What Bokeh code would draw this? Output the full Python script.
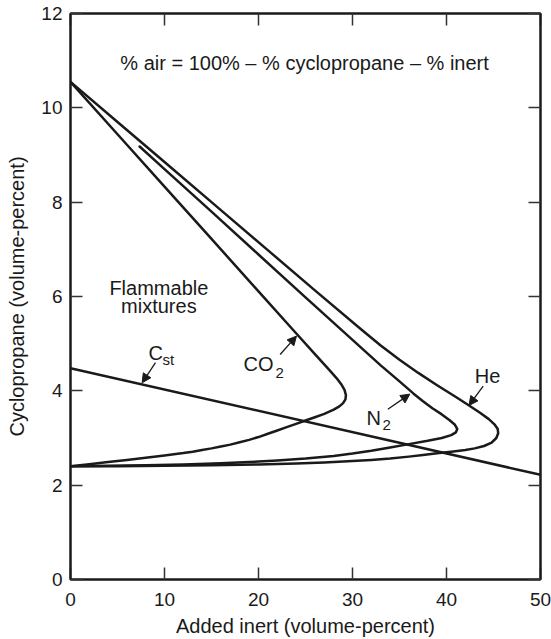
from bokeh.plotting import figure
from bokeh.models import Range1d, LinearAxis, Arrow, NormalHead, FixedTicker, CustomJSTickFormatter
from bokeh.core.properties import value
from bokeh.embed import file_html
from bokeh.resources import INLINE

# ---------------- data ----------------
x_ticks = [0, 10, 20, 30, 40, 50]
y_ticks = [0, 2, 4, 6, 8, 10, 12]

co2_x = [0, 5, 10, 15, 20, 24, 26, 27.5, 28.3, 28.8, 29.15, 29.3, 29.25, 29.0, 28.6,
         28.0, 27.0, 26.0, 25.0, 24.0, 23.0, 22.0, 21.0, 20.0, 19.0, 18.0, 17.0, 16.0,
         15.0, 14.0, 13.0, 12.0, 10.0, 8.0, 6.0, 4.0, 2.0, 0.0]
co2_y = [10.55, 9.44, 8.33, 7.22, 6.11, 5.22, 4.78, 4.45, 4.27, 4.14, 4.02, 3.91, 3.82,
         3.74, 3.67, 3.60, 3.51, 3.44, 3.37, 3.30, 3.23, 3.16, 3.09, 3.02, 2.96, 2.91,
         2.86, 2.82, 2.78, 2.745, 2.71, 2.68, 2.63, 2.58, 2.535, 2.49, 2.445, 2.40]

n2_x = [7.35, 10, 15, 20, 25, 30, 33, 35, 36.5, 37.5, 38.5, 39.5, 40.3, 40.9, 41.15,
        41.0, 40.5, 39.5, 38.0, 36.0, 34.0, 32.0, 30.0, 28.0, 25.0, 22.0, 19.0, 16.0,
        12.0, 8.0, 4.0, 0.0]
n2_y = [9.18, 8.70, 7.80, 6.89, 5.98, 5.08, 4.54, 4.20, 3.94, 3.78, 3.63, 3.50, 3.38,
        3.28, 3.19, 3.12, 3.06, 3.00, 2.94, 2.87, 2.80, 2.73, 2.67, 2.62, 2.565, 2.525,
        2.49, 2.465, 2.44, 2.42, 2.41, 2.40]

he_x = [0, 5, 10, 15, 21.3, 26, 31, 33, 35, 37, 39, 41, 42.4, 43.6, 44.5, 45.1, 45.45,
        45.5, 45.3, 44.8, 44.0, 43.0, 42.0, 40.5, 39.0, 37.5, 36.0, 34.0, 32.0, 30.0,
        27.0, 24.0, 20.0, 15.0, 10.0, 5.0, 0.0]
he_y = [10.55, 9.70, 8.85, 8.00, 6.93, 6.13, 5.29, 4.96, 4.66, 4.38, 4.12, 3.87, 3.69,
        3.53, 3.40, 3.29, 3.19, 3.10, 3.00, 2.90, 2.83, 2.78, 2.745, 2.71, 2.675, 2.64,
        2.605, 2.565, 2.535, 2.51, 2.48, 2.46, 2.44, 2.42, 2.41, 2.40, 2.40]

cst_x = [0, 50]
cst_y = [4.48, 2.22]

FONT = "Liberation Sans"
INK = "#1a1a1a"

p = figure(width=551, height=639, x_range=Range1d(0, 50), y_range=Range1d(0, 12),
           output_backend="svg", toolbar_location=None,
           min_border_left=70, min_border_right=11, min_border_top=13, min_border_bottom=58)
p.grid.visible = False
p.outline_line_color = INK
p.outline_line_width = 2
p.background_fill_color = "white"
p.border_fill_color = "white"

for ax in p.xaxis:
    ax.ticker = FixedTicker(ticks=x_ticks)
    ax.axis_label = "Added inert (volume-percent)"
    ax.major_label_standoff = 13
    ax.axis_label_standoff = 6
for ax in p.yaxis:
    ax.ticker = FixedTicker(ticks=y_ticks)
    ax.axis_label = "Cyclopropane (volume-percent)"
    ax.major_label_standoff = 8
    ax.axis_label_standoff = 10

for ax in list(p.xaxis) + list(p.yaxis):
    ax.axis_line_color = INK
    ax.axis_line_width = 2
    ax.major_tick_in = 12
    ax.major_tick_out = 0
    ax.major_tick_line_color = "#333333"
    ax.major_tick_line_width = 1.5
    ax.minor_tick_line_color = None
    ax.major_label_text_font = FONT
    ax.major_label_text_font_size = "19px"
    ax.major_label_text_color = INK
    ax.axis_label_text_font = FONT
    ax.axis_label_text_font_size = "20px"
    ax.axis_label_text_font_style = "normal"
    ax.axis_label_text_color = INK

blank = CustomJSTickFormatter(code="return '';")
top = LinearAxis(ticker=FixedTicker(ticks=x_ticks), formatter=blank)
right = LinearAxis(ticker=FixedTicker(ticks=y_ticks), formatter=blank)
for ax in (top, right):
    ax.major_label_text_font_size = "1px"
    ax.major_label_standoff = 0
    ax.major_tick_in = 12
    ax.major_tick_out = 0
    ax.major_tick_line_color = "#333333"
    ax.major_tick_line_width = 1.5
    ax.minor_tick_line_color = None
    ax.axis_line_color = INK
    ax.axis_line_width = 2
p.add_layout(top, "above")
p.add_layout(right, "right")

for xs, ys in ((co2_x, co2_y), (n2_x, n2_y), (he_x, he_y), (cst_x, cst_y)):
    p.line(xs, ys, line_color=INK, line_width=2.5, line_join="round", line_cap="round")

# texts
def txt(x, y, s, size="20px", align="left"):
    p.text(x=[x], y=[y], text=[s], text_font=value(FONT), text_font_size=size,
           text_align=align, text_baseline="middle", text_color=INK)

txt(24.9, 10.95, "% air = 100% \u2013 % cyclopropane \u2013 % inert", align="center")
txt(9.4, 6.18, "Flammable", align="center")
txt(9.4, 5.79, "mixtures", align="center")
txt(8.3, 4.81, "C")
txt(9.8, 4.66, "st", size="15px")
txt(18.4, 4.56, "CO")
txt(21.8, 4.38, "2", size="15px")
txt(31.5, 3.43, "N")
txt(33.2, 3.28, "2", size="15px")
txt(43.0, 4.31, "He")

arrows = [
    (9.04, 4.60, 7.62, 4.17),
    (22.3, 4.77, 24.04, 5.16),
    (33.76, 3.61, 36.1, 3.93),
    (43.9, 4.10, 42.4, 3.69),
]
for xs, ys, xe, ye in arrows:
    p.add_layout(Arrow(end=NormalHead(size=9, fill_color=INK, line_color=INK, line_width=1),
                       x_start=xs, y_start=ys, x_end=xe, y_end=ye,
                       line_color=INK, line_width=1.3))

open("out.html", "w").write(file_html(p, INLINE))
